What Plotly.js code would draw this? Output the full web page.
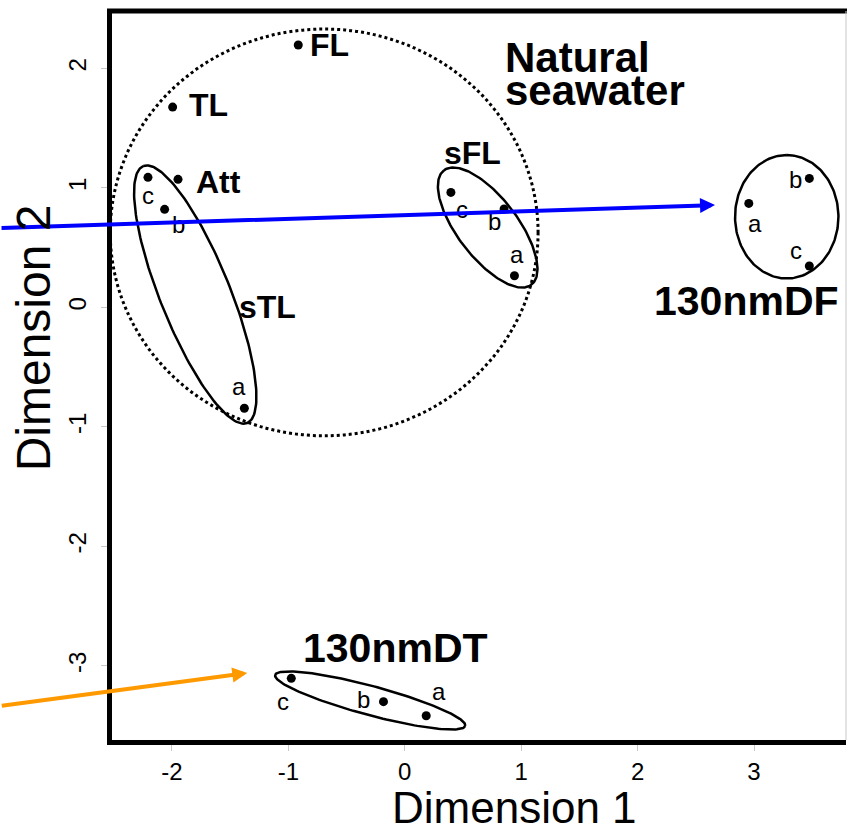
<!DOCTYPE html>
<html><head><meta charset="utf-8">
<script src="https://cdn.plot.ly/plotly-3.0.1.min.js"></script>
<style>html,body{margin:0;padding:0;background:#fff}#chart{width:847px;height:829px}</style>
</head><body><div id="chart"></div>
<script>
// ---- data ----
const singleNames = ['FL', 'TL', 'Att'];
const singleX = [-0.915, -1.994, -1.948];
const singleY = [2.195, 1.676, 1.071];

const groupNames = ['sTL', 'sFL', '130nmDF', '130nmDT'];
const repLabels = ['a', 'b', 'c'];
const sTL_x = [-1.378, -2.063, -2.206];
const sTL_y = [-0.845, 0.820, 1.088];
const sFL_x = [0.942, 0.853, 0.396];
const sFL_y = [0.264, 0.823, 0.962];
const DF_x = [2.955, 3.475, 3.475];
const DF_y = [0.870, 1.079, 0.346];
const DT_x = [0.184, -0.183, -0.975];
const DT_y = [-3.418, -3.300, -3.105];

const xTickVals = [-2, -1, 0, 1, 2, 3];
const xTickText = ['-2', '-1', '0', '1', '2', '3'];
const yTickVals = [-3, -2, -1, 0, 1, 2];
const yTickText = ['-3', '-2', '-1', '0', '1', '2'];

const xTitle = 'Dimension 1';
const yTitle = 'Dimension 2';
const envelopeLabel = ['Natural', 'seawater'];

// ---- layout helpers (positions / styles) ----
const FONT = 'Liberation Sans, Arial, Helvetica, sans-serif';
const K = 119.5 / 116.46; // y px per unit / x px per unit
const groupsX = [sTL_x, sFL_x, DF_x, DT_x];
const groupsY = [sTL_y, sFL_y, DF_y, DT_y];

// ellipses around each replicate group
const ellipseSpec = [
  {cx: -1.800, cy: 0.107, a: 1.190, b: 0.300, ang: 112},
  {cx: 0.712, cy: 0.668, a: 0.618, b: 0.258, ang: 127.4},
  {cx: 3.281, cy: 0.758, a: 0.530, b: 0.444, ang: 90},
  {cx: -0.297, cy: -3.290, a: 0.845, b: 0.125, ang: -15}
];
function ellipse(s) {
  const xs = [], ys = [];
  const th = s.ang * Math.PI / 180;
  for (let i = 0; i <= 180; i++) {
    const t = 2 * Math.PI * i / 180;
    const u = s.a * Math.cos(t), v = s.b * Math.sin(t);
    xs.push(s.cx + u * Math.cos(th) - v * Math.sin(th));
    ys.push(s.cy + (u * Math.sin(th) + v * Math.cos(th)) / K);
  }
  return {xs, ys};
}

const traces = [];
ellipseSpec.forEach(s => {
  const e = ellipse(s);
  traces.push({x: e.xs, y: e.ys, mode: 'lines', type: 'scatter',
    line: {color: 'black', width: 2.5}, hoverinfo: 'skip', cliponaxis: true});
});

const allX = singleX.concat(...groupsX);
const allY = singleY.concat(...groupsY);
traces.push({x: allX, y: allY, mode: 'markers', type: 'scatter',
  marker: {color: 'black', size: 9}, hoverinfo: 'x+y'});

// label offsets in px (dx right, dy down) for a, b, c in each group
const letterOffsets = [
  [[-5, -20], [14, 17], [0, 20]],
  [[3, -19], [-10, 15], [11, 19]],
  [[6, 22], [-14, 3], [-13, -13]],
  [[13, -22], [-20, 0], [-8, 25]]
];
const annotations = [];
groupsX.forEach((gx, g) => {
  gx.forEach((x, i) => {
    annotations.push({x: x, y: groupsY[g][i], text: repLabels[i], showarrow: false,
      xanchor: 'center', yanchor: 'middle',
      xshift: letterOffsets[g][i][0], yshift: -letterOffsets[g][i][1] + 2,
      font: {family: FONT, size: 24, color: 'black'}});
  });
});

// single-sample bold labels, to the right of their points
const singleOffsets = [[10, 0], [14, 2], [16, -3]];
singleNames.forEach((n, i) => {
  annotations.push({x: singleX[i], y: singleY[i], text: '<b>' + n + '</b>', showarrow: false,
    xanchor: 'left', yanchor: 'middle', xshift: singleOffsets[i][0], yshift: singleOffsets[i][1],
    font: {family: FONT, size: 32, color: 'black'}});
});

// group name labels
const groupLabelPos = [
  {x: -1.442, y: 0.0, anchor: 'left', size: 32},
  {x: 0.579, y: 1.295, anchor: 'center', size: 32},
  {x: 2.934, y: 0.053, anchor: 'center', size: 41},
  {x: -0.076, y: -2.851, anchor: 'center', size: 41}
];
groupNames.forEach((n, i) => {
  const p = groupLabelPos[i];
  annotations.push({x: p.x, y: p.y, text: '<b>' + n + '</b>', showarrow: false,
    xanchor: p.anchor, yanchor: 'middle', font: {family: FONT, size: p.size, color: 'black'}});
});

// "Natural seawater" envelope label (two tight lines)
annotations.push({x: 0.845, y: 2.095, text: '<b>' + envelopeLabel[0] + '</b>', showarrow: false,
  xanchor: 'left', yanchor: 'middle', font: {family: FONT, size: 42, color: 'black'}});
annotations.push({x: 0.845, y: 1.811, text: '<b>' + envelopeLabel[1] + '</b>', showarrow: false,
  xanchor: 'left', yanchor: 'middle', font: {family: FONT, size: 42, color: 'black'}});

// arrows
annotations.push({x: 2.665, y: 0.856, ax: -715, ay: 23, text: '', showarrow: true,
  arrowhead: 2, arrowsize: 0.75, arrowwidth: 4, arrowcolor: '#0000ff', standoff: 0});
annotations.push({x: -1.353, y: -3.060, ax: -247, ay: 33, text: '', showarrow: true,
  arrowhead: 2, arrowsize: 0.75, arrowwidth: 4, arrowcolor: '#ff9900', standoff: 0});

// axis titles
annotations.push({xref: 'paper', yref: 'paper', x: 0.548, y: -0.092, text: xTitle,
  xanchor: 'center', yanchor: 'middle',
  showarrow: false, font: {family: FONT, size: 44, color: 'black'}});
annotations.push({xref: 'paper', yref: 'paper', x: -0.1076, y: 0.551, text: yTitle,
  xanchor: 'center', yanchor: 'middle',
  showarrow: false, textangle: -90, font: {family: FONT, size: 48, color: 'black'}});

const axisCommon = {
  showgrid: false, zeroline: false, showline: true, linewidth: 5, linecolor: 'black',
  ticks: 'outside', ticklen: 6, tickwidth: 1, tickcolor: '#c8c8c8',
  tickfont: {family: FONT, size: 24, color: 'black'}, fixedrange: true
};

const layout = {
  width: 847, height: 829,
  margin: {l: 112, r: 1, t: 11, b: 89},
  paper_bgcolor: 'white', plot_bgcolor: 'white', showlegend: false,
  xaxis: Object.assign({}, axisCommon, {range: [-2.515, 3.790], tickmode: 'array',
    tickvals: xTickVals, ticktext: xTickText}),
  yaxis: Object.assign({}, axisCommon, {range: [-3.621, 2.480], tickmode: 'array',
    tickvals: yTickVals, ticktext: yTickText, tickangle: -90, ticklabelstandoff: 5}),
  shapes: [
    {type: 'circle', xref: 'x', yref: 'y', x0: -2.530, x1: 1.145, y0: -1.075, y1: 2.329,
      line: {color: 'black', width: 3, dash: 'dot'}, layer: 'below'},
    {type: 'line', xref: 'paper', yref: 'paper', x0: -0.0068, x1: 1.002, y0: 1, y1: 1,
      line: {color: 'black', width: 5}},
    {type: 'line', xref: 'paper', yref: 'paper', x0: 1, x1: 1, y0: 0, y1: 1,
      line: {color: '#c8c8c8', width: 1}}
  ],
  annotations: annotations
};

Plotly.newPlot('chart', traces, layout, {displayModeBar: false, staticPlot: true});
</script>
</body></html>
